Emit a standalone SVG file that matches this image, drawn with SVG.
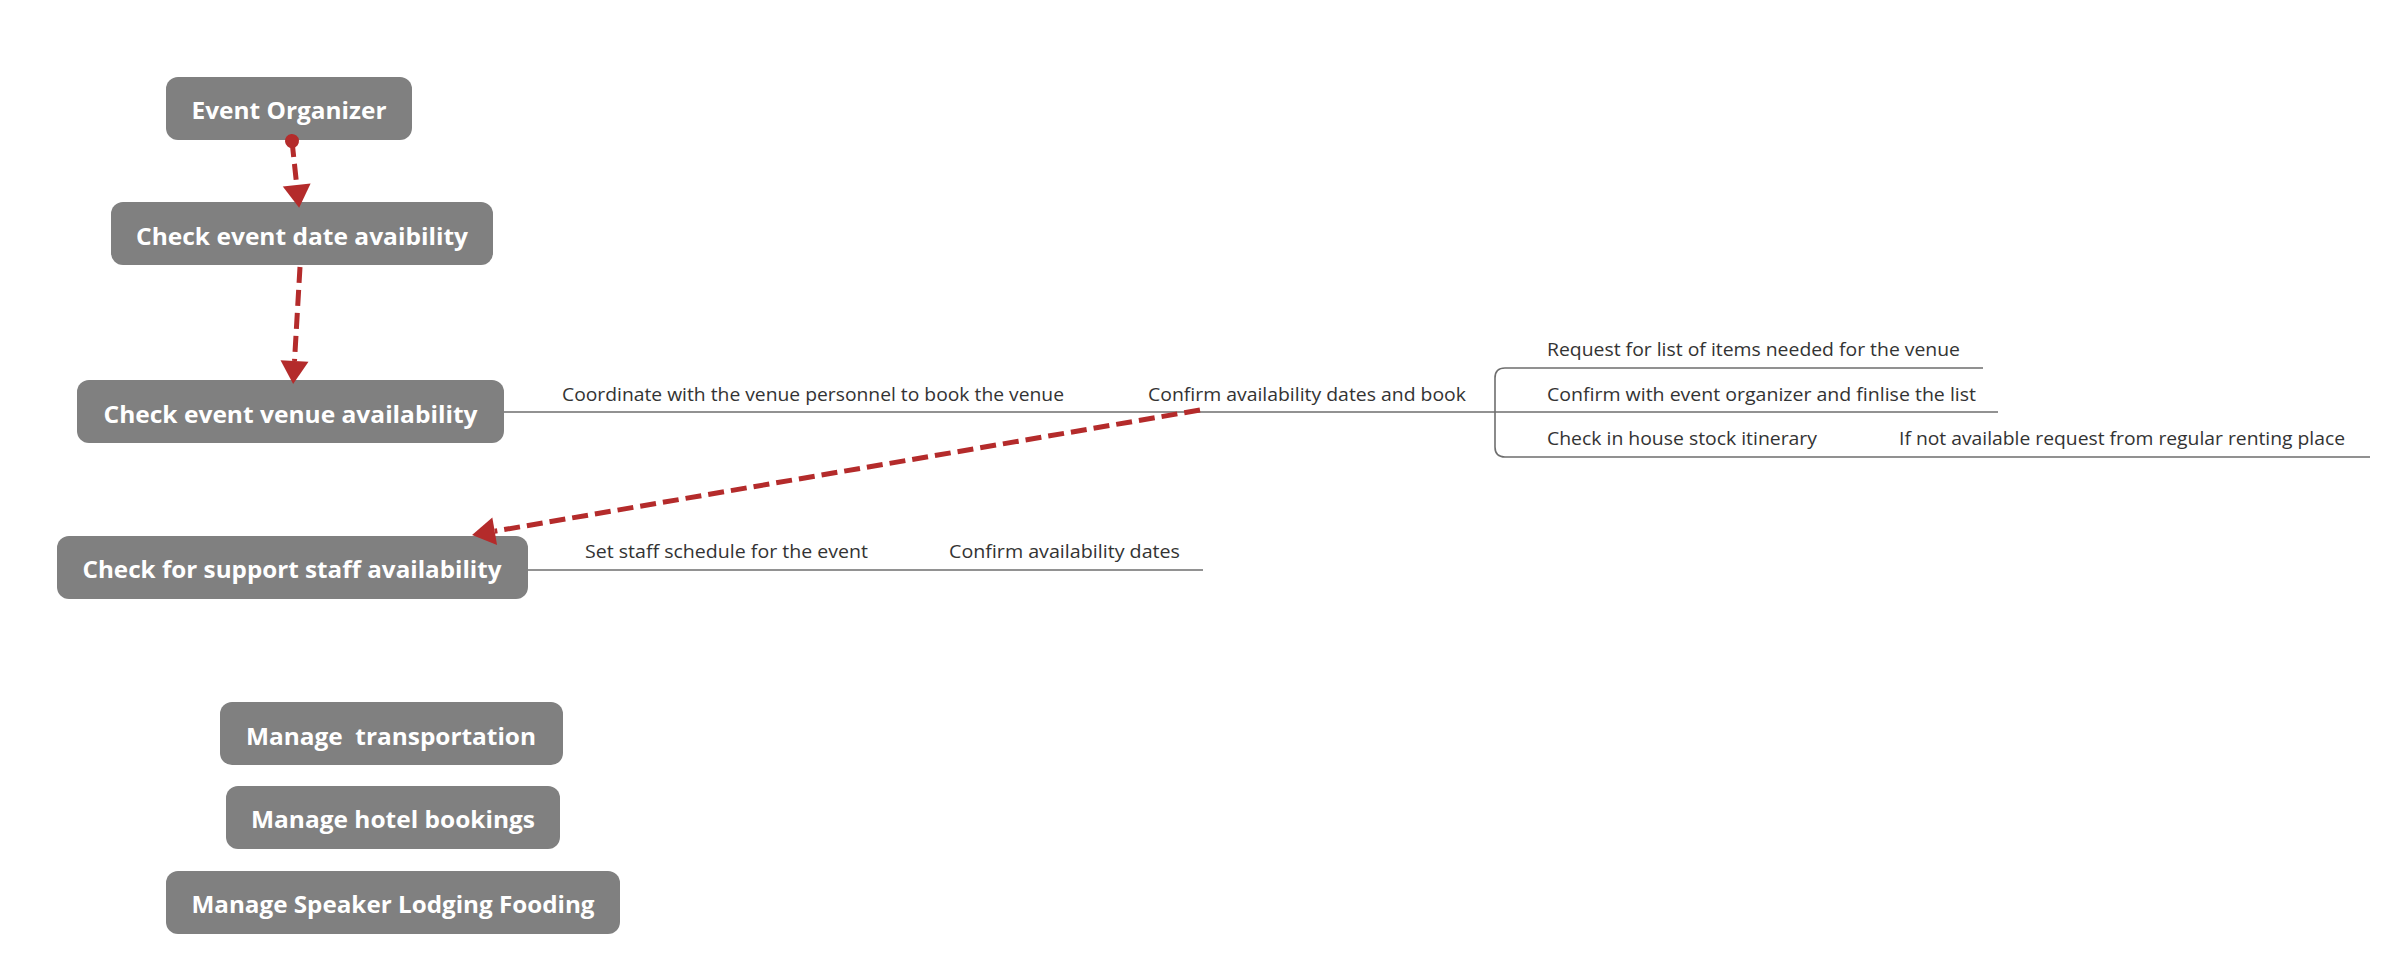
<svg xmlns="http://www.w3.org/2000/svg" width="2400" height="975" viewBox="0 0 2400 975">
  <style>
    .node rect { fill: #808080; }
    .node text { fill: #ffffff; font-family: "Open Sans", "Noto Sans", "DejaVu Sans", sans-serif; font-weight: bold; font-size: 24px; text-anchor: middle; }
    .branch { fill: none; stroke: #6e6e6e; stroke-width: 1.6; }
    .lbl { fill: #333333; font-family: "Open Sans", "Noto Sans", "DejaVu Sans", sans-serif; font-size: 19px; }
    .rel { fill: none; stroke: #b42b2b; stroke-width: 5; stroke-dasharray: 16 7; }
  </style>
  <defs>
    <marker id="arrow" markerUnits="userSpaceOnUse" markerWidth="26" markerHeight="30" refX="0" refY="14" orient="auto" overflow="visible">
      <path d="M0,0 L23,14 L0,28 Z" fill="#b42b2b"/>
    </marker>
    <marker id="dot" markerUnits="userSpaceOnUse" markerWidth="16" markerHeight="16" refX="8" refY="8" orient="auto" overflow="visible">
      <circle cx="8" cy="8" r="7" fill="#b42b2b"/>
    </marker>
  </defs>
  <rect width="2400" height="975" fill="#ffffff"/>

  <g id="node-event-organizer" class="node">
    <rect x="166" y="77" width="246" height="63" rx="12"/>
    <text x="289" y="119" textLength="195" lengthAdjust="spacingAndGlyphs">Event Organizer</text>
  </g>
  <g id="node-check-date" class="node">
    <rect x="111" y="202" width="382" height="63" rx="12"/>
    <text x="302" y="245" textLength="332" lengthAdjust="spacingAndGlyphs">Check event date avaibility</text>
  </g>
  <g id="node-check-venue" class="node">
    <rect x="77" y="380" width="427" height="63" rx="12"/>
    <text x="290.5" y="423" textLength="374" lengthAdjust="spacingAndGlyphs">Check event venue availability</text>
  </g>
  <g id="node-check-staff" class="node">
    <rect x="57" y="536" width="471" height="63" rx="12"/>
    <text x="292" y="578" textLength="419" lengthAdjust="spacingAndGlyphs">Check for support staff availability</text>
  </g>
  <g id="node-transportation" class="node">
    <rect x="220" y="702" width="343" height="63" rx="12"/>
    <text x="391" y="745" textLength="290" lengthAdjust="spacingAndGlyphs" xml:space="preserve">Manage  transportation</text>
  </g>
  <g id="node-hotel" class="node">
    <rect x="226" y="786" width="334" height="63" rx="12"/>
    <text x="393" y="828" textLength="284" lengthAdjust="spacingAndGlyphs">Manage hotel bookings</text>
  </g>
  <g id="node-speaker" class="node">
    <rect x="166" y="871" width="454" height="63" rx="12"/>
    <text x="393" y="913" textLength="403" lengthAdjust="spacingAndGlyphs">Manage Speaker Lodging Fooding</text>
  </g>

  <g id="labels">
    <text class="lbl" x="562" y="401" textLength="502" lengthAdjust="spacingAndGlyphs">Coordinate with the venue personnel to book the venue</text>
    <text class="lbl" x="1148" y="401" textLength="318" lengthAdjust="spacingAndGlyphs">Confirm availability dates and book</text>
    <text class="lbl" x="1547" y="356" textLength="413" lengthAdjust="spacingAndGlyphs">Request for list of items needed for the venue</text>
    <text class="lbl" x="1547" y="401" textLength="429" lengthAdjust="spacingAndGlyphs">Confirm with event organizer and finlise the list</text>
    <text class="lbl" x="1547" y="445" textLength="270" lengthAdjust="spacingAndGlyphs">Check in house stock itinerary</text>
    <text class="lbl" x="1899" y="445" textLength="446" lengthAdjust="spacingAndGlyphs">If not available request from regular renting place</text>
    <text class="lbl" x="585" y="558" textLength="283" lengthAdjust="spacingAndGlyphs">Set staff schedule for the event</text>
    <text class="lbl" x="949" y="558" textLength="231" lengthAdjust="spacingAndGlyphs">Confirm availability dates</text>
  </g>

  <g id="connectors">
    <path class="branch" d="M504,412 H1495"/>
    <path class="branch" d="M1983,368 H1505 Q1495,368 1495,378 V447 Q1495,457 1505,457 H2370"/>
    <path class="branch" d="M1495,412 H1998"/>
    <path class="branch" d="M528,570 H1203"/>
    <path class="rel" d="M292,141 L296.7,185" marker-start="url(#dot)" marker-end="url(#arrow)"/>
    <path class="rel" d="M300,267 L294.5,361" marker-end="url(#arrow)"/>
    <path class="rel" d="M1200,410 L494.7,531.2" marker-end="url(#arrow)"/>
  </g>
</svg>
